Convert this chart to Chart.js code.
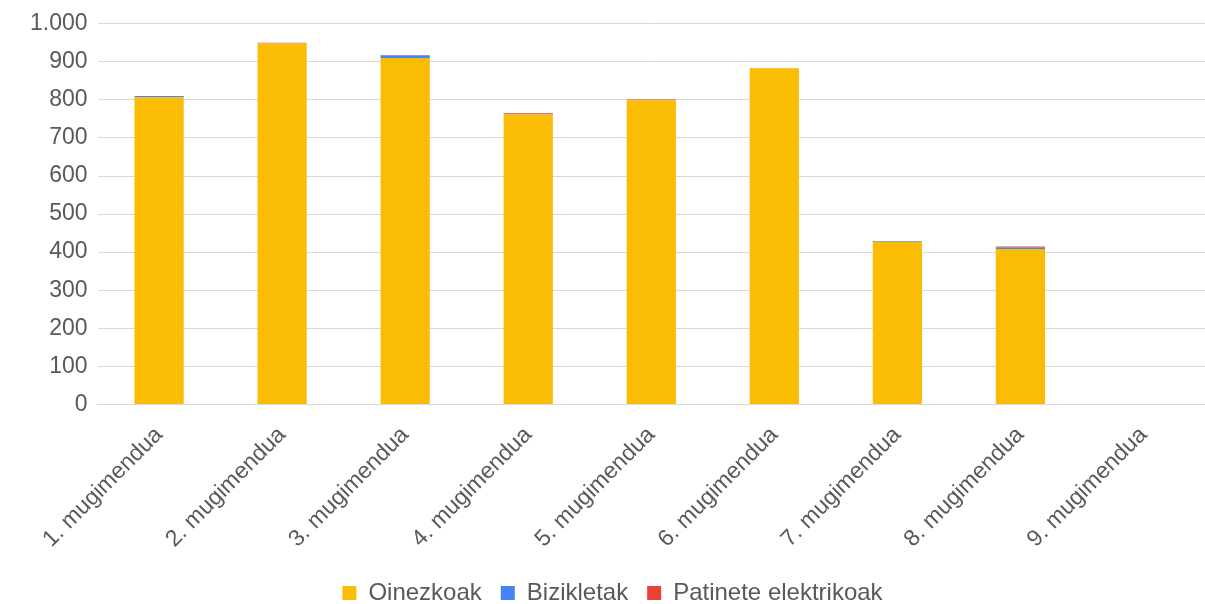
<!DOCTYPE html>
<html>
<head>
<meta charset="utf-8">
<script src="https://cdn.jsdelivr.net/npm/chart.js@4/dist/chart.umd.min.js"></script>
<style>
  html, body { margin: 0; padding: 0; background: #fff; }
  #wrap { width: 1205px; height: 604px; }
</style>
</head>
<body>
<div id="wrap"><canvas id="chart"></canvas></div>
<script>
const categories = [
  "1. mugimendua", "2. mugimendua", "3. mugimendua", "4. mugimendua",
  "5. mugimendua", "6. mugimendua", "7. mugimendua", "8. mugimendua", "9. mugimendua"
];
const oinezkoak = [807, 948, 910, 762, 799, 883, 427, 408, 0];
const bizikletak = [3, 1, 7, 1, 1, 1, 2, 4, 0];
const patineteak = [0, 1, 1, 2, 1, 0, 0, 3, 0];

Chart.defaults.font.family = "'Liberation Sans', Arial, sans-serif";
Chart.defaults.color = "#595959";

new Chart(document.getElementById("chart"), {
  type: "bar",
  data: {
    labels: categories,
    datasets: [
      { label: "Oinezkoak", data: oinezkoak, backgroundColor: "#FBBC04" },
      { label: "Bizikletak", data: bizikletak, backgroundColor: "#4285F4" },
      { label: "Patinete elektrikoak", data: patineteak, backgroundColor: "#EA4335" }
    ]
  },
  options: {
    responsive: true,
    maintainAspectRatio: false,
    animation: false,
    layout: { padding: { left: 20, right: 0, top: -3, bottom: -11 } },
    datasets: { bar: { barPercentage: 0.4, categoryPercentage: 1 } },
    scales: {
      x: {
        stacked: true,
        grid: { display: false },
        border: { color: "#d9d9d9" },
        ticks: { font: { size: 23 }, maxRotation: 45, minRotation: 45, padding: 9, color: "#595959" }
      },
      y: {
        stacked: true,
        min: 0,
        max: 1000,
        grid: { color: "#d9d9d9", drawTicks: false },
        border: { display: false },
        ticks: {
          stepSize: 100,
          padding: 10,
          font: { size: 23 },
          color: "#595959",
          callback: (v) => v.toLocaleString("de-DE")
        }
      }
    },
    plugins: {
      legend: {
        position: "bottom",
        labels: { boxWidth: 14, boxHeight: 14, font: { size: 24 }, padding: 19, color: "#595959" }
      },
      tooltip: { enabled: false }
    }
  }
});
</script>
</body>
</html>
